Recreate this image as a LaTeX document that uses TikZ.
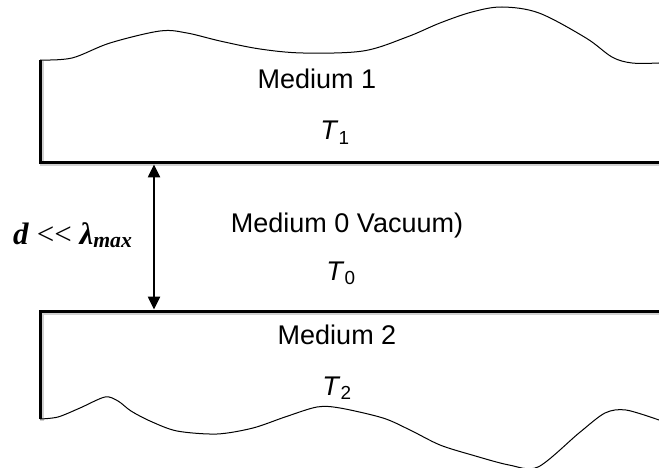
\documentclass[tikz,border=0pt]{standalone}
\usepackage{fontspec}
\setmainfont{Liberation Sans}
\newfontfamily\serifx{Liberation Serif}
\usetikzlibrary{arrows.meta}
\begin{document}
\begin{tikzpicture}[x=1pt,y=-1pt,
  thickedge/.style={line width=3pt, line join=miter},
  shadowedge/.style={line width=4pt, draw=black!18, line join=miter},
  wave/.style={line width=1pt},
  lbl/.style={font=\fontsize{27}{30}\selectfont, anchor=base, inner sep=0pt},
  gap/.style={line width=2.5pt, {Triangle[length=13pt,width=12pt]}-{Triangle[length=13pt,width=12pt]}}]
\useasboundingbox (0,0) rectangle (659,468);
% shadows
\draw[shadowedge, shift={(1.5,1.5)}] (40,60) -- (40,163) -- (659,163);
\draw[shadowedge, shift={(1.5,1.5)}] (40,419) -- (40,311) -- (659,311);
% Medium 1
\draw[wave] plot[smooth, tension=0.55] coordinates {(40,60) (72,58) (110,43) (160,31) (187,33) (220,41) (260,49) (303,53) (363,51) (407,37) (440,23) (472,12) (502,7) (539,13) (586,38) (612,57) (632,63) (659,63)};
\draw[thickedge] (40,60) -- (40,163) -- (659,163);
% Medium 2
\draw[thickedge] (40,419) -- (40,311) -- (659,311);
\draw[wave] plot[smooth, tension=0.5] coordinates {(40,419) (58,417) (80,408) (105,397) (118,401) (131,411) (150,421) (177,431) (217,434) (253,428) (285,417) (317,407) (340,408) (383,418) (410,430) (440,445) (472,455) (509,465) (538,467) (579,433) (605,413) (626,410) (659,420)};
% labels
\node[lbl] (m1) at (317,89) {Medium 1};
\node[lbl] (t1) at (335,140) {\textit{T}\textsubscript{1}};
\node[lbl] (m0) at (347,233) {Medium 0 Vacuum)};
\node[lbl] (t0) at (341,280) {\textit{T}\textsubscript{0}};
\node[lbl] (m2) at (337,344) {Medium 2};
\node[lbl] (t2) at (337,395) {\textit{T}\textsubscript{2}};
\node[font=\serifx\fontsize{31}{34}\selectfont, anchor=base west, inner sep=0pt] (d) at (13,244) {\textbf{\textit{d}} {<<} \textbf{\textit{λ}}\textsubscript{\textbf{\textit{max}}}};
% gap arrow
\coordinate (g1) at (154,164.5);
\coordinate (g2) at (154,309.5);
\draw[gap] (g1) -- (g2);
\end{tikzpicture}
\end{document}
